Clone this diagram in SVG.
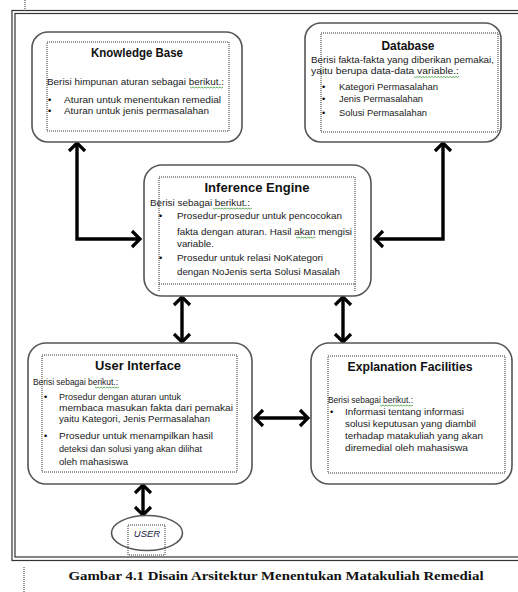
<svg xmlns="http://www.w3.org/2000/svg" width="518" height="592" viewBox="0 0 518 592">
  <style>
    .frame { fill: none; stroke: #333; stroke-width: 1.2; }
    .box { fill: #fff; stroke: #555; stroke-width: 1.6; }
    .inner { fill: none; stroke: #333; stroke-width: 1; stroke-dasharray: 1 1; }
    .title { font-family: "Liberation Sans", Arial, sans-serif; font-weight: bold; fill: #111; text-anchor: middle; }
    .body { font-family: "Liberation Sans", Arial, sans-serif; fill: #1a1a1a; }
    .bul { font-family: "Liberation Sans", Arial, sans-serif; font-size: 9px; fill: #000; }
    .s9 { font-size: 9px; }
    .s93 { font-size: 9.3px; }
    .s98 { font-size: 9.8px; }
    .link { fill: none; stroke: #000; stroke-width: 3.4; marker-start: url(#chev); marker-end: url(#chev); }
    .spell { fill: none; stroke: #3a9a3a; stroke-width: 0.8; }
    .caption { font-family: "Liberation Serif", "Times New Roman", serif; font-weight: bold; font-size: 13.5px; fill: #111; text-anchor: middle; }
    .mark { stroke: #333; stroke-width: 1; stroke-dasharray: 1 1; }
  </style>
  <defs>
    <marker id="chev" viewBox="-11 -10 13 20" refX="0" refY="0" markerWidth="13" markerHeight="20" markerUnits="userSpaceOnUse" orient="auto-start-reverse" overflow="visible">
      <path d="M-8,-8 L0,0 L-8,8" fill="none" stroke="#000" stroke-width="3.2"/>
    </marker>
  </defs>

  <rect width="518" height="592" fill="#fff"/>

  <!-- page frame (double rule) -->
  <rect class="frame" x="12" y="10.5" width="530" height="550"/>
  <rect class="frame" x="15" y="13.5" width="530" height="543.5"/>
  <line class="mark" x1="25" y1="0" x2="25" y2="10"/>
  <line class="mark" x1="24" y1="567" x2="24" y2="592"/>

  <!-- connectors -->
  <g id="connectors">
    <path class="link" d="M77,143 V239 H140"/>
    <path class="link" d="M443,143 V239 H375"/>
    <path class="link" d="M182,297 V342"/>
    <path class="link" d="M343,297 V342"/>
    <path class="link" d="M255,418 H308"/>
    <path class="link" d="M143,485 V515"/>
  </g>

  <g id="knowledge-base">
    <rect class="box" x="32" y="32" width="210" height="110" rx="16"/>
    <rect class="inner" x="47" y="42" width="182" height="89"/>
    <text class="title" x="137" y="57" font-size="12" textLength="92" lengthAdjust="spacingAndGlyphs">Knowledge  Base</text>
    <text class="body s9" x="47" y="85" textLength="177" lengthAdjust="spacingAndGlyphs">Berisi himpunan  aturan  sebagai berikut.:</text>
    <path class="spell" d="M190,87 l1.5,1 l1.5,-1 l1.5,1 l1.5,-1 l1.5,1 l1.5,-1 l1.5,1 l1.5,-1 l1.5,1 l1.5,-1 l1.5,1 l1.5,-1 l1.5,1 l1.5,-1 l1.5,1 l1.5,-1 l1.5,1 l1.5,-1 l1.5,1 l1.5,-1 l1.5,1 l1.5,-1"/>
    <text class="bul" x="48" y="103">•</text>
    <text class="body s9" x="64" y="103" textLength="157" lengthAdjust="spacingAndGlyphs">Aturan untuk menentukan  remedial</text>
    <text class="bul" x="48" y="114">•</text>
    <text class="body s9" x="64" y="114" textLength="145" lengthAdjust="spacingAndGlyphs">Aturan untuk jenis  permasalahan</text>
  </g>

  <g id="database">
    <rect class="box" x="305" y="23" width="196" height="119" rx="16"/>
    <rect class="inner" x="321" y="33" width="177" height="99"/>
    <text class="title" x="408" y="50" font-size="12" textLength="53" lengthAdjust="spacingAndGlyphs">Database</text>
    <text class="body s9" x="311" y="63" textLength="183" lengthAdjust="spacingAndGlyphs">Berisi fakta-fakta yang diberikan  pemakai,</text>
    <text class="body s9" x="311" y="74" textLength="148" lengthAdjust="spacingAndGlyphs">yaitu berupa data-data  variable.:</text>
    <path class="spell" d="M414,76.5 l1.5,1 l1.5,-1 l1.5,1 l1.5,-1 l1.5,1 l1.5,-1 l1.5,1 l1.5,-1 l1.5,1 l1.5,-1 l1.5,1 l1.5,-1 l1.5,1 l1.5,-1 l1.5,1 l1.5,-1 l1.5,1 l1.5,-1 l1.5,1 l1.5,-1 l1.5,1 l1.5,-1 l1.5,1 l1.5,-1 l1.5,1 l1.5,-1 l1.5,1 l1.5,-1 l1.5,1 l1.5,-1"/>
    <text class="bul" x="322" y="90">•</text>
    <text class="body s9" x="339" y="90" textLength="99" lengthAdjust="spacingAndGlyphs">Kategori Permasalahan</text>
    <text class="bul" x="322" y="102">•</text>
    <text class="body s9" x="339" y="102" textLength="84" lengthAdjust="spacingAndGlyphs">Jenis Permasalahan</text>
    <text class="bul" x="322" y="116">•</text>
    <text class="body s9" x="339" y="116" textLength="88" lengthAdjust="spacingAndGlyphs">Solusi Permasalahan</text>
  </g>

  <g id="inference-engine">
    <rect class="box" x="144" y="165" width="227" height="131" rx="18"/>
    <rect class="inner" x="159" y="177" width="196" height="107"/>
    <line class="inner" x1="159" y1="284" x2="159" y2="292"/>
    <line class="inner" x1="355" y1="284" x2="355" y2="292"/>
    <text class="title" x="257" y="192" font-size="13" textLength="105" lengthAdjust="spacingAndGlyphs">Inference Engine</text>
    <text class="body s93" x="150" y="206" textLength="100" lengthAdjust="spacingAndGlyphs">Berisi sebagai berikut.:</text>
    <path class="spell" d="M213,208 l1.5,1 l1.5,-1 l1.5,1 l1.5,-1 l1.5,1 l1.5,-1 l1.5,1 l1.5,-1 l1.5,1 l1.5,-1 l1.5,1 l1.5,-1 l1.5,1 l1.5,-1 l1.5,1 l1.5,-1 l1.5,1 l1.5,-1 l1.5,1 l1.5,-1 l1.5,1 l1.5,-1 l1.5,1 l1.5,-1 l1.5,1 l1.5,-1"/>
    <text class="bul" x="159" y="219">•</text>
    <text class="body s98" x="177" y="219" textLength="165" lengthAdjust="spacingAndGlyphs">Prosedur-prosedur  untuk  pencocokan</text>
    <text class="body s98" x="177" y="235" textLength="175" lengthAdjust="spacingAndGlyphs">fakta dengan aturan.  Hasil akan mengisi</text>
    <path class="spell" d="M296,237 l1.5,1 l1.5,-1 l1.5,1 l1.5,-1 l1.5,1 l1.5,-1 l1.5,1 l1.5,-1 l1.5,1 l1.5,-1 l1.5,1 l1.5,-1 l1.5,1"/>
    <text class="body s98" x="177" y="247" textLength="37" lengthAdjust="spacingAndGlyphs">variable.</text>
    <text class="bul" x="159" y="261">•</text>
    <text class="body s98" x="177" y="261" textLength="146" lengthAdjust="spacingAndGlyphs">Prosedur  untuk relasi NoKategori</text>
    <text class="body s98" x="177" y="275" textLength="163" lengthAdjust="spacingAndGlyphs">dengan NoJenis serta Solusi  Masalah</text>
  </g>

  <g id="user-interface">
    <rect class="box" x="28" y="343" width="224" height="141" rx="18"/>
    <rect class="inner" x="42" y="355" width="195" height="117"/>
    <text class="title" x="138" y="370" font-size="13" textLength="86" lengthAdjust="spacingAndGlyphs">User Interface</text>
    <text class="body s9" x="33" y="385" textLength="85" lengthAdjust="spacingAndGlyphs">Berisi sebagai berikut.:</text>
    <path class="spell" d="M95,387 l1.5,1 l1.5,-1 l1.5,1 l1.5,-1 l1.5,1 l1.5,-1 l1.5,1 l1.5,-1 l1.5,1 l1.5,-1 l1.5,1 l1.5,-1 l1.5,1 l1.5,-1 l1.5,1 l1.5,-1"/>
    <text class="bul" x="44" y="400">•</text>
    <text class="body s93" x="59" y="400" textLength="122" lengthAdjust="spacingAndGlyphs">Prosedur  dengan aturan untuk</text>
    <text class="body s93" x="59" y="411" textLength="174" lengthAdjust="spacingAndGlyphs">membaca  masukan  fakta dari pemakai</text>
    <text class="body s93" x="59" y="422" textLength="151" lengthAdjust="spacingAndGlyphs">yaitu Kategori, Jenis Permasalahan</text>
    <text class="bul" x="44" y="439">•</text>
    <text class="body s93" x="59" y="439" textLength="154" lengthAdjust="spacingAndGlyphs">Prosedur  untuk menampilkan  hasil</text>
    <text class="body s93" x="59" y="452" textLength="143" lengthAdjust="spacingAndGlyphs">deteksi dan solusi  yang akan dilihat</text>
    <text class="body s93" x="59" y="465" textLength="69" lengthAdjust="spacingAndGlyphs">oleh mahasiswa</text>
  </g>

  <g id="explanation-facilities">
    <rect class="box" x="311" y="343" width="201" height="141" rx="18"/>
    <rect class="inner" x="328" y="356" width="177" height="117"/>
    <text class="title" x="410" y="371" font-size="12.5" textLength="125" lengthAdjust="spacingAndGlyphs">Explanation Facilities</text>
    <text class="body s9" x="328" y="403" textLength="85" lengthAdjust="spacingAndGlyphs">Berisi sebagai berikut.:</text>
    <path class="spell" d="M380,405 l1.5,1 l1.5,-1 l1.5,1 l1.5,-1 l1.5,1 l1.5,-1 l1.5,1 l1.5,-1 l1.5,1 l1.5,-1 l1.5,1 l1.5,-1 l1.5,1 l1.5,-1 l1.5,1 l1.5,-1 l1.5,1 l1.5,-1 l1.5,1 l1.5,-1 l1.5,1 l1.5,-1"/>
    <text class="bul" x="330" y="415">•</text>
    <text class="body s98" x="345" y="415" textLength="119" lengthAdjust="spacingAndGlyphs">Informasi  tentang  informasi</text>
    <text class="body s98" x="345" y="427" textLength="131" lengthAdjust="spacingAndGlyphs">solusi keputusan  yang diambil</text>
    <text class="body s98" x="345" y="439" textLength="138" lengthAdjust="spacingAndGlyphs">terhadap matakuliah yang akan</text>
    <text class="body s98" x="345" y="451" textLength="123" lengthAdjust="spacingAndGlyphs">diremedial oleh mahasiswa</text>
  </g>

  <g id="user">
    <ellipse class="box" cx="147" cy="533" rx="35.5" ry="17.5"/>
    <rect class="inner" x="128" y="525" width="37" height="30"/>
    <text x="147" y="537" font-family="Liberation Sans, Arial, sans-serif" font-style="italic" font-size="9.5" fill="#1a1a40" text-anchor="middle">USER</text>
  </g>

  <text class="caption" x="276" y="580" textLength="415" lengthAdjust="spacingAndGlyphs">Gambar 4.1 Disain Arsitektur Menentukan Matakuliah Remedial</text>
</svg>
